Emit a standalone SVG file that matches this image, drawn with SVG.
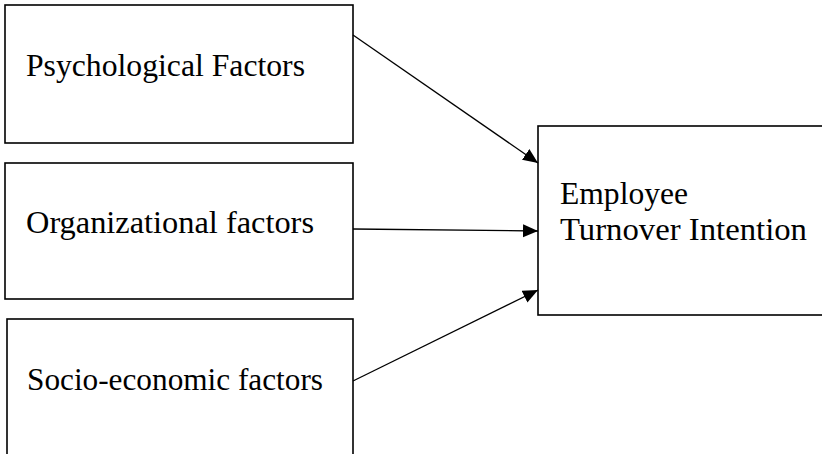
<svg xmlns="http://www.w3.org/2000/svg" width="822" height="454" viewBox="0 0 822 454">
<style>
.box{fill:#fff;stroke:#000;stroke-width:1.6}
.lbl{font-family:"Liberation Serif","Times New Roman",serif;font-size:31px;fill:#000}
.conn{stroke:#000;stroke-width:1.3;fill:none;marker-end:url(#ah)}
</style>
<defs>
<marker id="ah" markerWidth="16" markerHeight="14" refX="15" refY="6.5" orient="auto" markerUnits="userSpaceOnUse">
<path d="M0,0 L15,6.5 L0,13 Z" fill="#000"/>
</marker>
</defs>
<rect width="822" height="454" fill="#fff"/>
<g id="psych">
<rect class="box" x="5" y="5" width="348" height="138"/>
<text class="lbl" x="26" y="76" textLength="279" lengthAdjust="spacingAndGlyphs">Psychological Factors</text>
</g>
<g id="org">
<rect class="box" x="5" y="163" width="348" height="136"/>
<text class="lbl" x="26" y="233" textLength="288" lengthAdjust="spacingAndGlyphs">Organizational factors</text>
</g>
<g id="socio">
<rect class="box" x="7" y="319" width="346" height="140"/>
<text class="lbl" x="27" y="390" textLength="296" lengthAdjust="spacingAndGlyphs">Socio-economic factors</text>
</g>
<g id="eti">
<rect class="box" x="538" y="126" width="290" height="189"/>
<text class="lbl" x="560" y="204" textLength="128" lengthAdjust="spacingAndGlyphs">Employee</text>
<text class="lbl" x="560" y="240" textLength="247" lengthAdjust="spacingAndGlyphs">Turnover Intention</text>
</g>
<g id="connectors">
<line class="conn" x1="353" y1="35" x2="538" y2="163"/>
<line class="conn" x1="353" y1="229" x2="538" y2="231"/>
<line class="conn" x1="353" y1="381" x2="538" y2="290"/>
</g>
</svg>
